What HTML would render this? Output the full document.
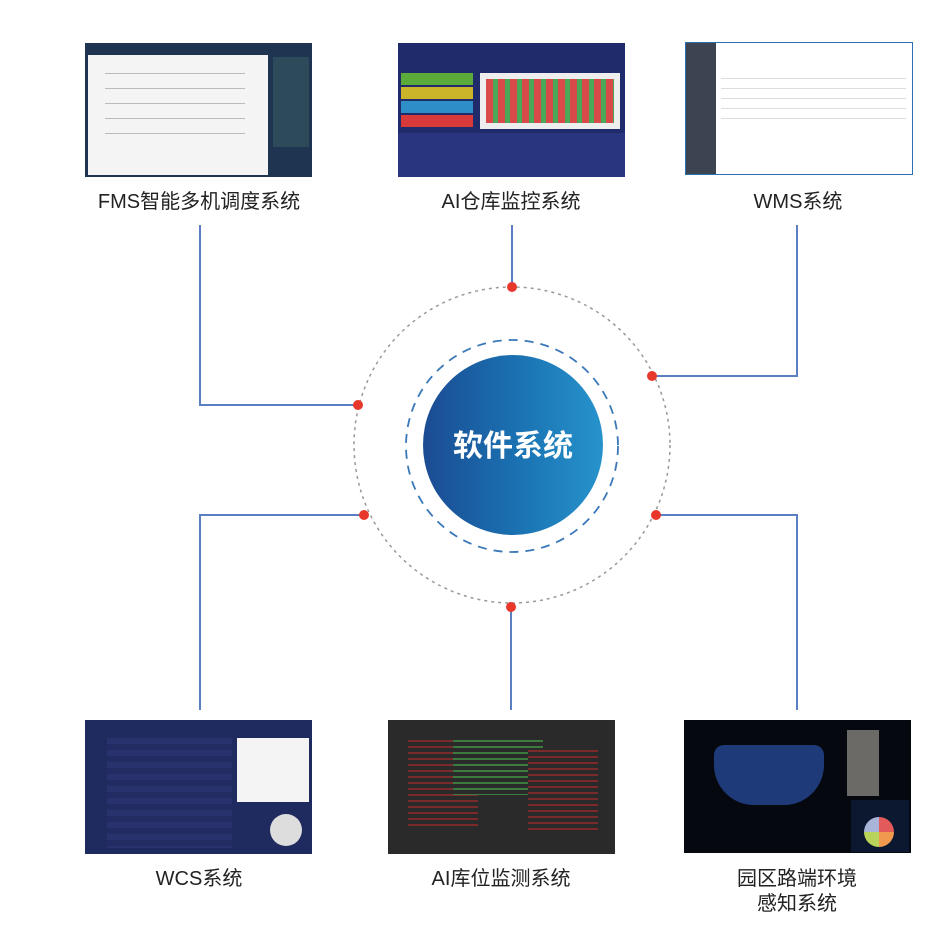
<!DOCTYPE html>
<html><head><meta charset="utf-8">
<style>
body{margin:0;width:952px;height:939px;background:#fff;position:relative;overflow:hidden;font-family:"Liberation Sans","Noto Sans CJK SC",sans-serif;}
.img{position:absolute;overflow:hidden}
.lbl{position:absolute;font-size:20px;color:#222;text-align:center;width:300px;line-height:25px}
.bar{position:absolute}
</style></head><body>
<svg width="952" height="939" style="position:absolute;left:0;top:0">
<defs><linearGradient id="g" x1="0" x2="1"><stop offset="0" stop-color="#1b4b93"/><stop offset="0.5" stop-color="#1a70b0"/><stop offset="1" stop-color="#2693cc"/></linearGradient></defs>
<g stroke="#5b7fc0" stroke-width="2" fill="none">
<polyline points="200,225 200,405 358,405"/>
<line x1="512" y1="225" x2="512" y2="287"/>
<polyline points="797,225 797,376 652,376"/>
<polyline points="364,515 200,515 200,710"/>
<line x1="511" y1="607" x2="511" y2="710"/>
<polyline points="656,515 797,515 797,710"/>
</g>
<circle cx="512" cy="445" r="158" fill="none" stroke="#999" stroke-width="1.5" stroke-dasharray="3,4"/>
<circle cx="512" cy="446" r="106" fill="none" stroke="#3a78b8" stroke-width="1.8" stroke-dasharray="9,7"/>
<circle cx="513" cy="445" r="90" fill="url(#g)"/>
<text x="513" y="456" fill="#fff" font-size="30" font-weight="bold" text-anchor="middle" font-family="Noto Sans CJK SC,sans-serif">软件系统</text>
<g fill="#e8382b">
<circle cx="512" cy="287" r="5"/><circle cx="358" cy="405" r="5"/><circle cx="652" cy="376" r="5"/>
<circle cx="364" cy="515" r="5"/><circle cx="656" cy="515" r="5"/><circle cx="511" cy="607" r="5"/>
</g>
</svg>

<!-- FMS -->
<div class="img" style="left:85px;top:43px;width:227px;height:134px;background:#1e3450">
 <div class="bar" style="left:3px;top:12px;width:180px;height:120px;background:#f4f4f4"></div>
 <div class="bar" style="left:20px;top:30px;width:140px;height:1px;background:#bbb;box-shadow:0 15px 0 #bbb,0 30px 0 #bbb,0 45px 0 #bbb,0 60px 0 #bbb"></div>
 <div class="bar" style="left:188px;top:14px;width:36px;height:90px;background:#2d4a5a"></div>
</div>
<!-- AI -->
<div class="img" style="left:398px;top:43px;width:227px;height:134px;background:#1f2b6a">
 <div class="bar" style="left:3px;top:30px;width:72px;height:12px;background:#5aab3a;box-shadow:0 14px 0 #c9b42a,0 28px 0 #2e8fc8,0 42px 0 #d83a3a"></div>
 <div class="bar" style="left:82px;top:30px;width:140px;height:56px;background:#eee"></div>
 <div class="bar" style="left:88px;top:36px;width:128px;height:44px;background:repeating-linear-gradient(90deg,#d84a4a 0 7px,#4aa85a 7px 12px)"></div>
 <div class="bar" style="left:0;top:90px;width:227px;height:44px;background:#2a3580"></div>
</div>
<!-- WMS -->
<div class="img" style="left:685px;top:42px;width:228px;height:133px;background:#fff;border:1px solid #2a6fb0;box-sizing:border-box">
 <div class="bar" style="left:0;top:0;width:30px;height:133px;background:#3b4450"></div>
 <div class="bar" style="left:35px;top:35px;width:185px;height:1px;background:#ddd;box-shadow:0 10px 0 #ddd,0 20px 0 #ddd,0 30px 0 #ddd,0 40px 0 #ddd"></div>
</div>
<!-- WCS -->
<div class="img" style="left:85px;top:720px;width:227px;height:134px;background:#1f2a5e">
 <div class="bar" style="left:22px;top:18px;width:125px;height:110px;background:repeating-linear-gradient(#28336e 0 6px,#222c62 6px 12px)"></div>
 <div class="bar" style="left:152px;top:18px;width:72px;height:64px;background:#f4f4f4"></div>
 <div class="bar" style="left:185px;top:94px;width:32px;height:32px;border-radius:50%;background:#ddd"></div>
</div>
<!-- AI库位 -->
<div class="img" style="left:388px;top:720px;width:227px;height:134px;background:#2a2a2a">
 <div class="bar" style="left:20px;top:20px;width:70px;height:90px;background:repeating-linear-gradient(#7a2a2a 0 2px,#2a2a2a 2px 6px)"></div>
 <div class="bar" style="left:65px;top:20px;width:90px;height:55px;background:repeating-linear-gradient(#3d7a3d 0 2px,#2a2a2a 2px 6px)"></div>
 <div class="bar" style="left:140px;top:30px;width:70px;height:80px;background:repeating-linear-gradient(#7a2a2a 0 2px,#2a2a2a 2px 6px)"></div>
</div>
<!-- 园区 -->
<div class="img" style="left:684px;top:720px;width:227px;height:133px;background:#05080f">
 <div class="bar" style="left:30px;top:25px;width:110px;height:60px;background:#1e3a78;border-radius:10px 10px 40px 40px"></div>
 <div class="bar" style="left:163px;top:10px;width:32px;height:66px;background:#6b6a66"></div>
 <div class="bar" style="left:167px;top:80px;width:58px;height:52px;background:#0c1730"></div>
 <div class="bar" style="left:180px;top:97px;width:30px;height:30px;border-radius:50%;background:conic-gradient(#e25a5a 0 25%,#f09a50 0 50%,#b8d45a 0 75%,#a8b4d8 0)"></div>
</div>

<div class="lbl" style="left:49px;top:190px">FMS智能多机调度系统</div>
<div class="lbl" style="left:361px;top:190px">AI仓库监控系统</div>
<div class="lbl" style="left:648px;top:190px">WMS系统</div>
<div class="lbl" style="left:49px;top:867px">WCS系统</div>
<div class="lbl" style="left:351px;top:867px">AI库位监测系统</div>
<div class="lbl" style="left:647px;top:867px">园区路端环境<br>感知系统</div>
</body></html>
